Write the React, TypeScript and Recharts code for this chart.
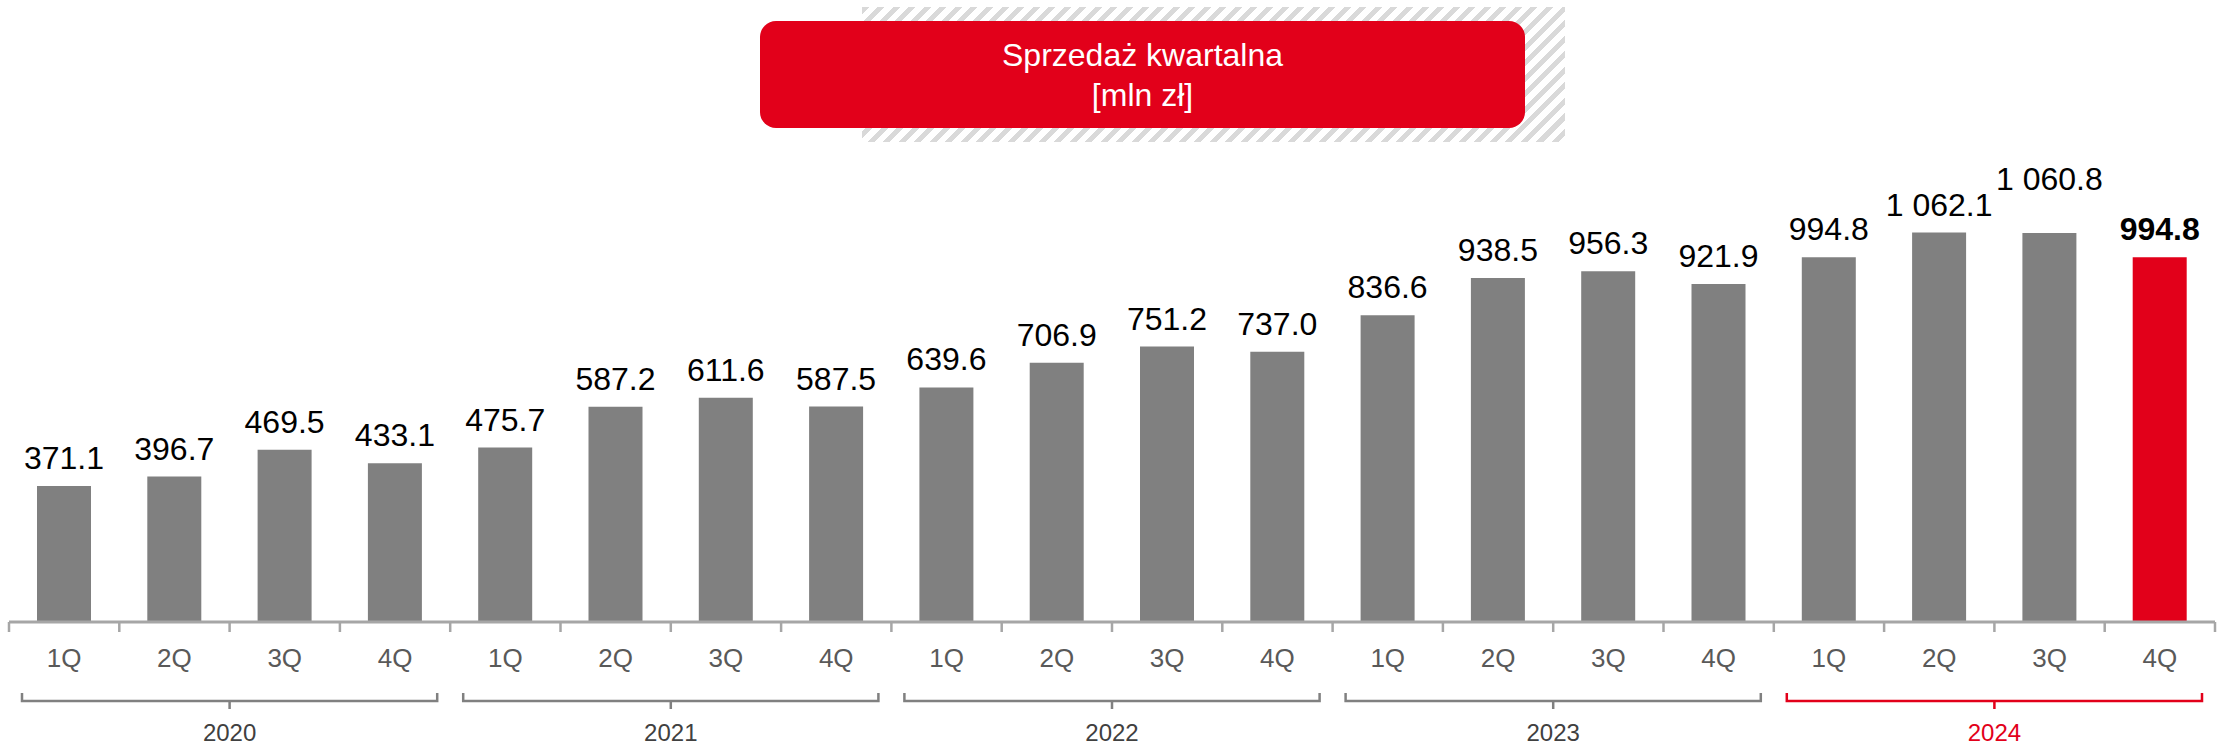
import { Bar, BarChart, Cell, LabelList, XAxis, YAxis } from "recharts"

const QUARTERS = [
  "1Q", "2Q", "3Q", "4Q",
  "1Q", "2Q", "3Q", "4Q",
  "1Q", "2Q", "3Q", "4Q",
  "1Q", "2Q", "3Q", "4Q",
  "1Q", "2Q", "3Q", "4Q",
]
const YEARS = ["2020", "2021", "2022", "2023", "2024"]
const SALES = [
  371.1, 396.7, 469.5, 433.1,
  475.7, 587.2, 611.6, 587.5,
  639.6, 706.9, 751.2, 737.0,
  836.6, 938.5, 956.3, 921.9,
  994.8, 1062.1, 1060.8, 994.8,
]
const TITLE = "Sprzedaż kwartalna"
const UNIT = "[mln zł]"

const data = QUARTERS.map((q, i) => ({ q, year: YEARS[Math.floor(i / 4)], value: SALES[i] }))

const W = 2228
const H = 750
const M = { top: 182, right: 13, left: 9, bottom: 0 }
const BAND = (W - M.left - M.right) / QUARTERS.length
const RED = "#e2001a"
const GREY = "#808080"
const FONT = "'Liberation Sans', Arial, sans-serif"
const LAST = SALES.length - 1
const LABEL_SIZE = 32

const fmt = (v: number) => {
  const [int, dec] = v.toFixed(1).split(".")
  return int.replace(/\B(?=(\d{3})+(?!\d))/g, " ") + "." + dec
}

// rough label width, to lift a label that would touch its left neighbour
const labelW = (v: number) => fmt(v).length * 0.5 * LABEL_SIZE
const lifted = (i: number) =>
  i > 0 && (labelW(SALES[i]) + labelW(SALES[i - 1])) / 2 > BAND - 2 && !lifted(i - 1)

function QuarterTick(props: any) {
  const { x, y, index, payload } = props
  const band = payload && payload.offset ? payload.offset * 2 : BAND
  const yearIdx = Math.floor(index / 4)
  const isRed = yearIdx === YEARS.length - 1
  const bracketColor = isRed ? RED : GREY
  const left = x - band / 2 + 13
  const right = x + 3.5 * band - 13
  const mid = x + 1.5 * band
  return (
    <g>
      <line x1={x - band / 2} x2={x - band / 2} y1={y} y2={y + 10} stroke="#a6a6a6" strokeWidth={2.5} />
      {index === QUARTERS.length - 1 && (
        <line x1={x + band / 2} x2={x + band / 2} y1={y} y2={y + 10} stroke="#a6a6a6" strokeWidth={2.5} />
      )}
      <text x={x} y={y + 45} textAnchor="middle" fontSize={26} fill="#595959" fontFamily={FONT}>
        {payload.value}
      </text>
      {index % 4 === 0 && (
        <g>
          <path
            d={`M${left},${y + 71} V${y + 79} H${right} V${y + 71} M${mid},${y + 79} V${y + 87}`}
            fill="none"
            stroke={bracketColor}
            strokeWidth={2.5}
          />
          <text x={mid} y={y + 119} textAnchor="middle" fontSize={24} fill={isRed ? RED : "#404040"} fontFamily={FONT}>
            {YEARS[yearIdx]}
          </text>
        </g>
      )}
    </g>
  )
}

function ValueLabel(props: any) {
  const { x, y, width, value, index } = props
  const lift = lifted(index) ? 26 : 0
  return (
    <text
      x={x + width / 2}
      y={y - 17 - lift}
      textAnchor="middle"
      fontSize={LABEL_SIZE}
      fontWeight={index === LAST ? 700 : 400}
      fill="#000"
      fontFamily={FONT}
    >
      {fmt(value)}
    </text>
  )
}

export default function App() {
  return (
    <div style={{ position: "absolute", left: 0, top: 0, width: W, height: H, background: "#fff", fontFamily: FONT }}>
      <div
        style={{
          position: "absolute",
          left: 862,
          top: 7,
          width: 703,
          height: 135,
          background: "repeating-linear-gradient(135deg, #d9d9d9 0px, #d9d9d9 5px, #ffffff 5px, #ffffff 11px)",
        }}
      />
      <div
        style={{
          position: "absolute",
          left: 760,
          top: 21,
          width: 765,
          height: 107,
          background: RED,
          borderRadius: 16,
          color: "#fff",
          fontSize: 32,
          lineHeight: "40px",
          textAlign: "center",
          display: "flex",
          flexDirection: "column",
          justifyContent: "center",
        }}
      >
        <div>{TITLE}</div>
        <div>{UNIT}</div>
      </div>
      <BarChart width={W} height={H} data={data} margin={M} style={{ position: "absolute", left: 0, top: 0 }}>
        <YAxis hide domain={[0, 1200]} />
        <XAxis
          dataKey="q"
          interval={0}
          height={128}
          tickSize={0}
          tickMargin={0}
          tickLine={false}
          axisLine={{ stroke: "#a6a6a6", strokeWidth: 3 }}
          tick={<QuarterTick />}
        />
        <Bar dataKey="value" barSize={54} isAnimationActive={false}>
          {data.map((_, i) => (
            <Cell key={i} fill={i === LAST ? RED : GREY} />
          ))}
          <LabelList dataKey="value" content={<ValueLabel />} />
        </Bar>
      </BarChart>
    </div>
  )
}
